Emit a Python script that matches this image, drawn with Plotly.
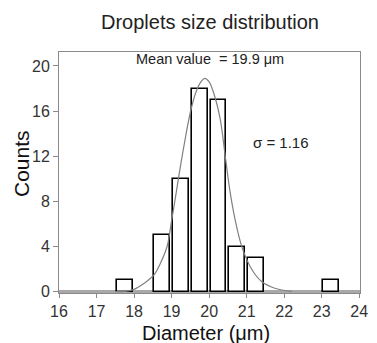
import plotly.graph_objects as go

# Histogram data
bin_centers = [17.75, 18.75, 19.25, 19.75, 20.25, 20.75, 21.25, 23.25]
counts = [1, 5, 10, 18, 17, 4, 3, 1]

# Fitted curve
curve_x = [17.5, 17.8, 18.0, 18.27, 18.53, 18.7, 18.88, 19.0, 19.1, 19.2, 19.35, 19.5,
           19.65, 19.78, 19.88, 20.0, 20.15, 20.3, 20.43, 20.56, 20.73, 20.9, 21.15,
           21.4, 21.75, 22.2]
curve_y = [0.0, 0.05, 0.2, 0.74, 1.48, 2.5, 4.0, 6.3, 8.3, 10.4, 13.3, 15.9,
           17.7, 18.6, 18.9, 18.6, 17.3, 15.2, 12.0, 8.8, 5.8, 3.7, 1.9,
           0.9, 0.3, 0.02]

x_ticks = [16, 17, 18, 19, 20, 21, 22, 23, 24]
y_ticks = [0, 4, 8, 12, 16, 20]

FONT = "Liberation Sans, Arial, sans-serif"

fig = go.Figure()
fig.add_trace(go.Bar(
    x=bin_centers, y=counts, width=0.42,
    marker=dict(color="white", line=dict(color="black", width=1.6)),
    showlegend=False,
))
fig.add_trace(go.Scatter(
    x=curve_x, y=curve_y, mode="lines",
    line=dict(color="#808080", width=1.2, shape="spline", smoothing=1.0),
    showlegend=False,
))

fig.update_layout(
    width=369, height=335,
    margin=dict(l=51, r=9, t=44, b=50),
    paper_bgcolor="white", plot_bgcolor="white",
    font=dict(family=FONT, color="#222222"),
    bargap=0,
    annotations=[
        dict(text="Droplets size distribution", xref="paper", yref="paper",
             x=0.5, y=1.124, xanchor="center", yanchor="middle", showarrow=False,
             font=dict(size=20, color="#222222")),
        dict(text="Mean value  = 19.9 μm", xref="x", yref="y",
             x=20.01, y=20.6, xanchor="center", yanchor="middle", showarrow=False,
             font=dict(size=14.5, color="#222222")),
        dict(text="σ = 1.16", xref="x", yref="y",
             x=21.92, y=13.2, xanchor="center", yanchor="middle", showarrow=False,
             font=dict(size=15, color="#222222")),
        dict(text="Diameter (μm)", xref="paper", yref="paper",
             x=0.49, y=-0.166, xanchor="center", yanchor="middle", showarrow=False,
             font=dict(size=20, color="#111111")),
        dict(text="Counts", xref="paper", yref="paper",
             x=-0.124, y=0.538, xanchor="center", yanchor="middle", showarrow=False,
             textangle=-90, font=dict(size=21, color="#111111")),
    ],
)

fig.update_xaxes(
    range=[16, 24.02], tickvals=x_ticks, ticktext=[str(v) for v in x_ticks],
    showline=True, linecolor="#8a8a8a", linewidth=1, mirror=True,
    ticks="outside", ticklen=4, tickcolor="#8a8a8a",
    showgrid=False, zeroline=False,
    tickfont=dict(size=16, color="#333333"),
)
fig.update_yaxes(
    range=[-0.12, 21.24], tickvals=y_ticks, ticktext=[str(v) for v in y_ticks],
    showline=True, linecolor="#8a8a8a", linewidth=1, mirror=True,
    ticks="outside", ticklen=5, tickcolor="#8a8a8a",
    showgrid=False, zeroline=True, zerolinecolor="#a8a8a8", zerolinewidth=3,
    tickfont=dict(size=16, color="#333333"),
)

fig.write_html("out.html")
